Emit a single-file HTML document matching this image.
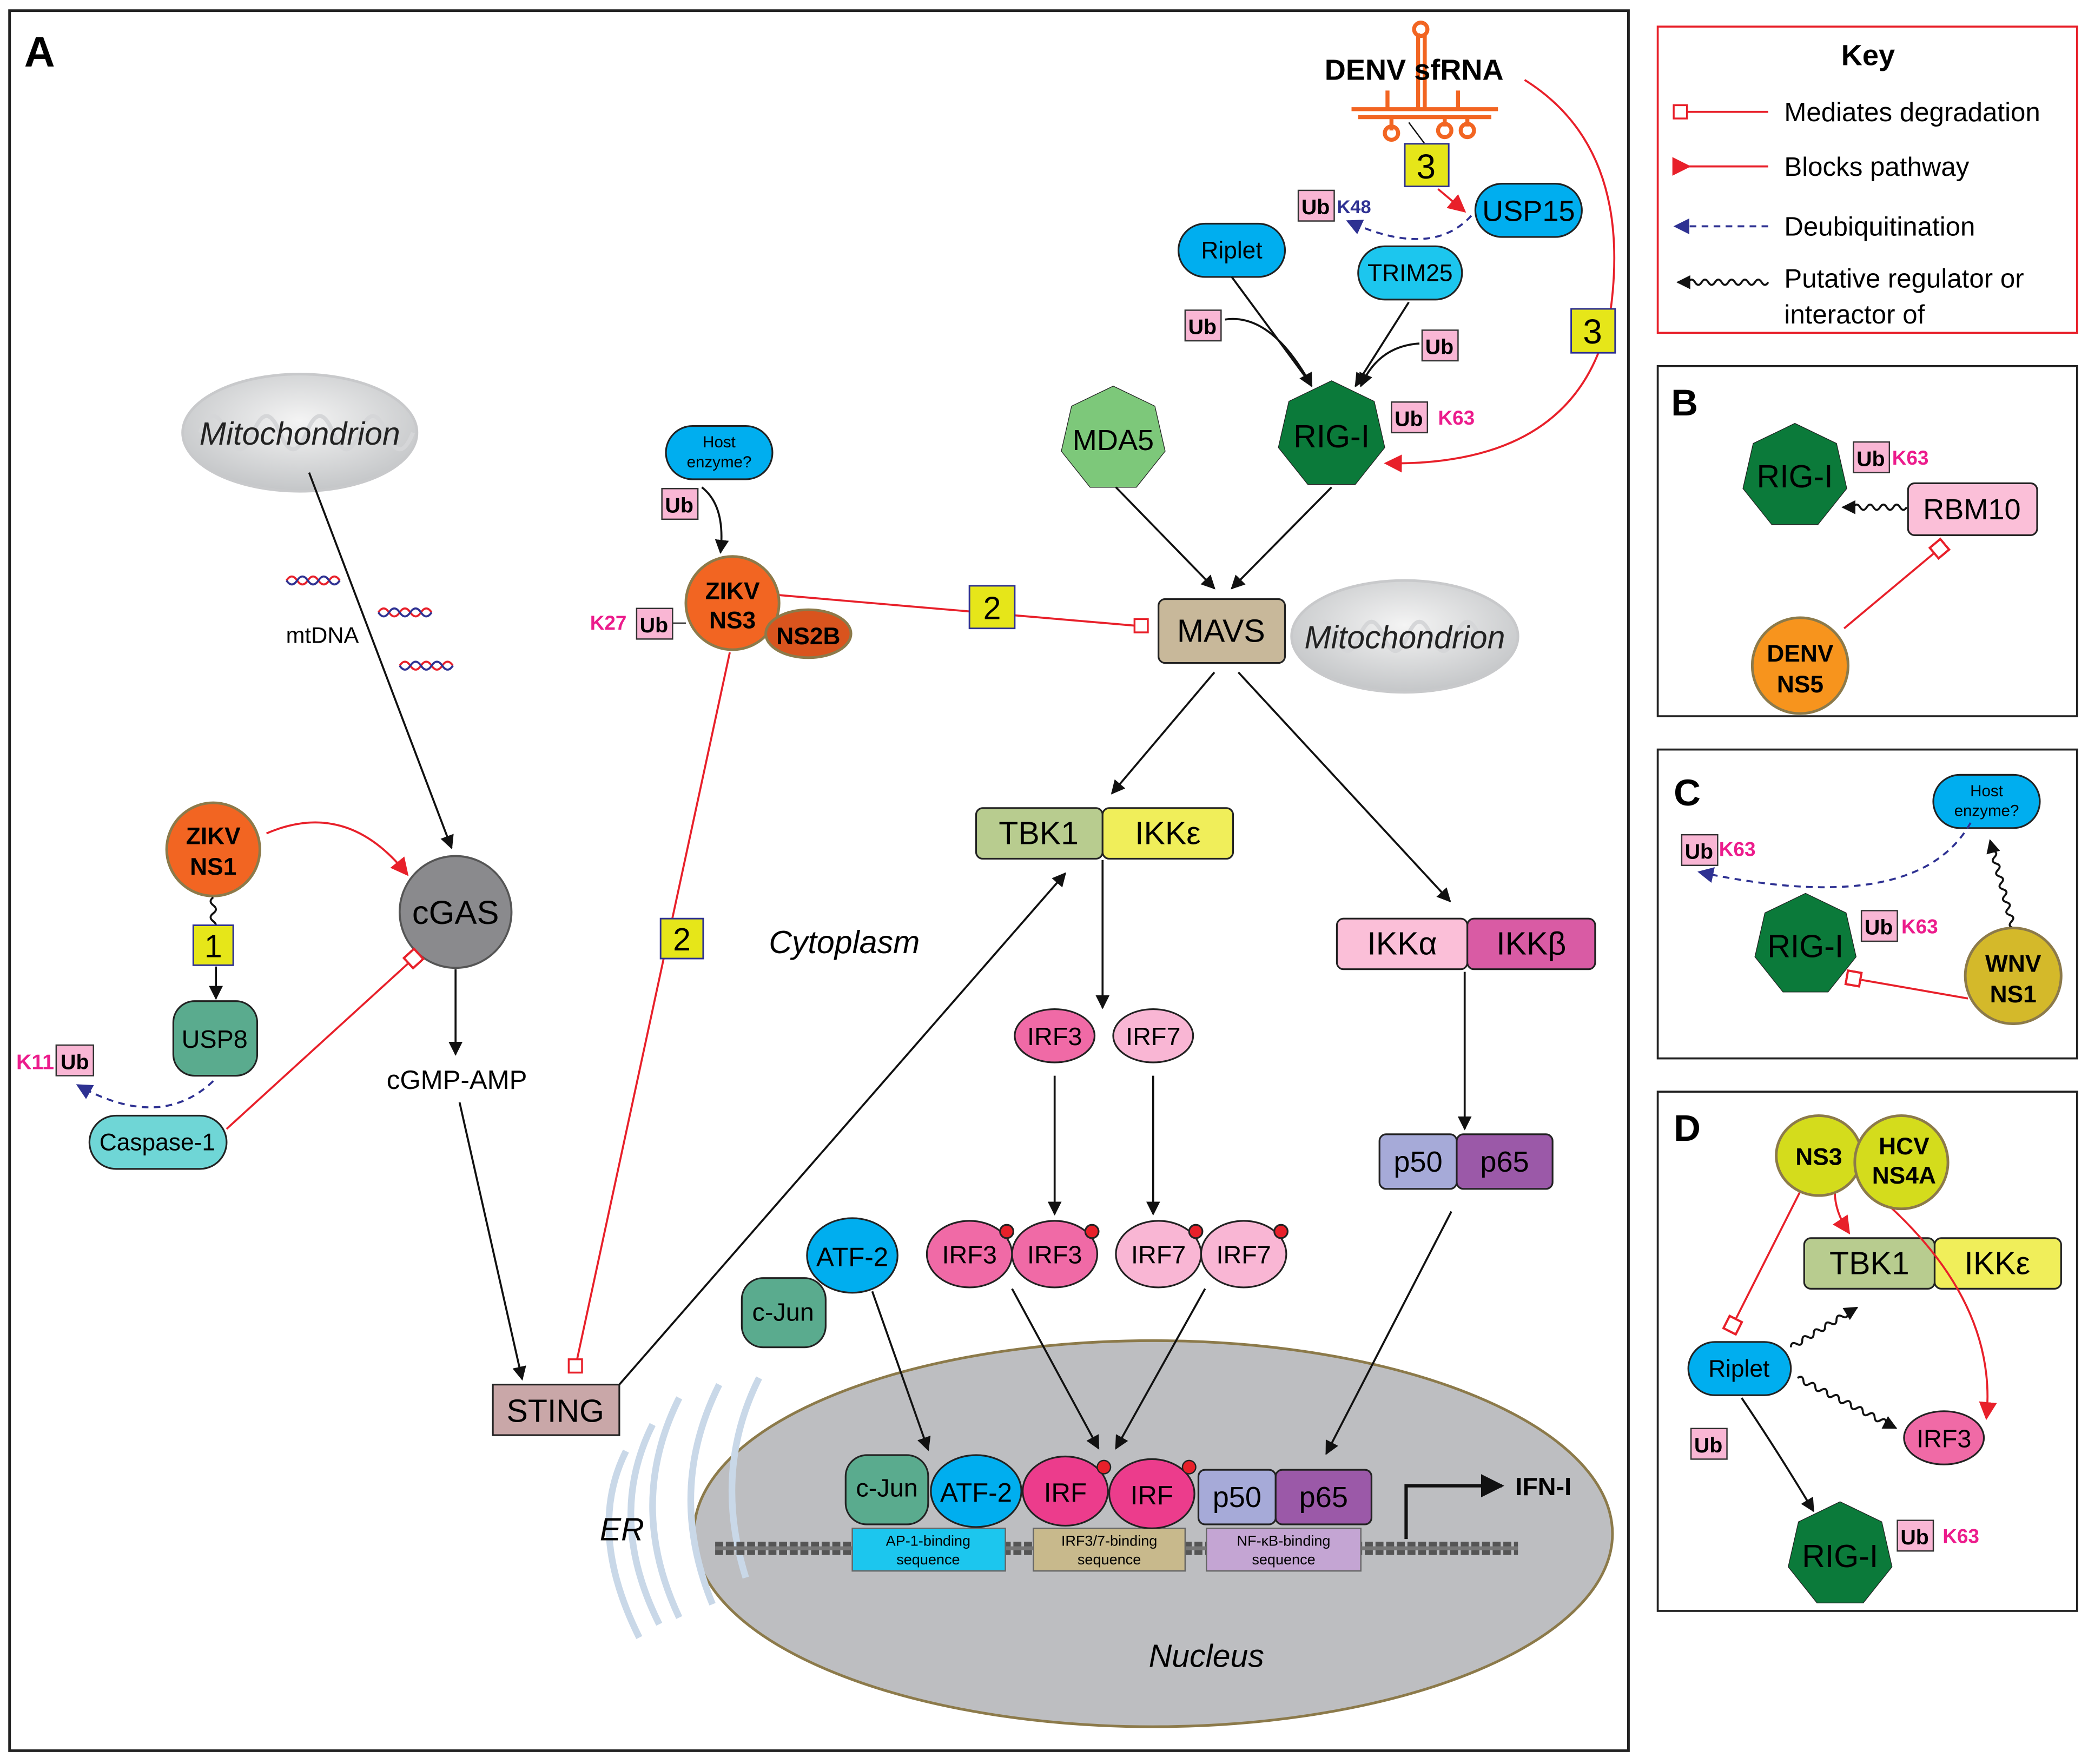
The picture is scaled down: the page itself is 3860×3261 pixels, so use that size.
<!DOCTYPE html>
<html><head><meta charset="utf-8"><style>
html,body{margin:0;padding:0;background:#fff}
svg{display:block}
text{font-family:"Liberation Sans",sans-serif}
</style></head><body>
<svg width="3860" height="3261" viewBox="0 0 1568 1325" xmlns="http://www.w3.org/2000/svg">
<defs>
<marker id="ah" viewBox="0 0 10 10" refX="9" refY="5" markerWidth="7" markerHeight="7" orient="auto"><path d="M0 0L10 5L0 10z" fill="#111"/></marker>
<marker id="rt" viewBox="0 0 10 10" refX="8" refY="5" markerWidth="9" markerHeight="9" orient="auto"><path d="M0 0L10 5L0 10z" fill="#e8202a"/></marker>
<marker id="sq" viewBox="0 0 10 10" refX="0" refY="5" markerWidth="8" markerHeight="8" orient="auto"><rect x="0.7" y="0.7" width="8.6" height="8.6" fill="#fff" stroke="#e8202a" stroke-width="1.4"/></marker>
<marker id="ba" viewBox="0 0 10 10" refX="9" refY="5" markerWidth="8" markerHeight="8" orient="auto"><path d="M0 0L10 5L0 10z" fill="#2e3192"/></marker>
<radialGradient id="mito" cx="50%" cy="40%" r="60%"><stop offset="0" stop-color="#f4f4f4"/><stop offset="1" stop-color="#c4c6c8"/></radialGradient>
</defs>
<rect width="1568" height="1325" fill="#fff"/>
<!-- frames -->
<rect x="7" y="8" width="1216" height="1307" fill="none" stroke="#222" stroke-width="2"/>
<rect x="1245" y="20" width="315" height="230" fill="none" stroke="#e8202a" stroke-width="1.5"/>
<rect x="1245" y="275" width="315" height="263" fill="none" stroke="#222" stroke-width="1.5"/>
<rect x="1245" y="563" width="315" height="232" fill="none" stroke="#222" stroke-width="1.5"/>
<rect x="1245" y="820" width="315" height="390" fill="none" stroke="#222" stroke-width="1.5"/>
<text x="18" y="50" font-size="32" font-weight="bold">A</text>

<!-- Nucleus background -->
<ellipse cx="866" cy="1152" rx="345" ry="145" fill="#bdbec1" stroke="#8c7a4a" stroke-width="2"/>

<!-- left mitochondrion -->
<ellipse cx="225" cy="325" rx="88" ry="44" fill="url(#mito)" stroke="#c8c9cb" stroke-width="2"/>
<path d="M150 325 q10 -25 20 0 q10 25 20 0 q10 -25 20 0 q10 25 20 0 q10 -25 20 0 q10 25 20 0 q10 -25 20 0 q10 25 20 0" fill="none" stroke="#d5d6d8" stroke-width="3"/>
<text x="225" y="334" font-size="24" font-style="italic" text-anchor="middle" fill="#222">Mitochondrion</text>
<g stroke-width="1.5" fill="none">
<path d="M215 436 q4 -6 8 0 t8 0 t8 0 t8 0 t8 0" stroke="#e8202a"/><path d="M215 436 q4 6 8 0 t8 0 t8 0 t8 0 t8 0" stroke="#2e3192"/>
<path d="M284 460 q4 -6 8 0 t8 0 t8 0 t8 0 t8 0" stroke="#e8202a"/><path d="M284 460 q4 6 8 0 t8 0 t8 0 t8 0 t8 0" stroke="#2e3192"/>
<path d="M300 500 q4 -6 8 0 t8 0 t8 0 t8 0 t8 0" stroke="#e8202a"/><path d="M300 500 q4 6 8 0 t8 0 t8 0 t8 0 t8 0" stroke="#2e3192"/>
</g>
<text x="242" y="483" font-size="17" text-anchor="middle">mtDNA</text>
<line x1="232" y1="355" x2="339" y2="637" stroke="#111" stroke-width="1.5" marker-end="url(#ah)"/>

<!-- cGAS -->
<circle cx="342" cy="685" r="42" fill="#8a8a8d" stroke="#555" stroke-width="1.5"/>
<text x="342" y="694" font-size="25" text-anchor="middle">cGAS</text>
<line x1="342" y1="728" x2="342" y2="792" stroke="#111" stroke-width="1.5" marker-end="url(#ah)"/>
<text x="343" y="818" font-size="20" text-anchor="middle">cGMP-AMP</text>
<line x1="345" y1="828" x2="392" y2="1036" stroke="#111" stroke-width="1.5" marker-end="url(#ah)"/>

<!-- ZIKV NS1 -->
<circle cx="160" cy="638" r="35" fill="#f26522" stroke="#8c7a4a" stroke-width="2"/>
<text x="160" y="634" font-size="18" font-weight="bold" text-anchor="middle">ZIKV</text>
<text x="160" y="657" font-size="18" font-weight="bold" text-anchor="middle">NS1</text>
<path d="M200 626 Q260 600 305 656" fill="none" stroke="#e8202a" stroke-width="1.5" marker-end="url(#rt)"/>
<path d="M160 674 q-4 3 0 6 t0 6 t0 6 t0 6" fill="none" stroke="#111" stroke-width="1.5"/>
<rect x="145" y="695" width="30" height="30" fill="#e6e619" stroke="#2e3192" stroke-width="1.2"/>
<text x="160" y="719" font-size="24" text-anchor="middle">1</text>
<line x1="162" y1="726" x2="162" y2="750" stroke="#111" stroke-width="1.5" marker-end="url(#ah)"/>
<rect x="130" y="752" width="63" height="56" rx="16" fill="#5aab8e" stroke="#222" stroke-width="1.3"/>
<text x="161" y="787" font-size="19" text-anchor="middle">USP8</text>
<rect x="67" y="838" width="103" height="40" rx="20" fill="#6fd6d6" stroke="#222" stroke-width="1.3"/>
<text x="118" y="864" font-size="18" text-anchor="middle">Caspase-1</text>
<path d="M160 812 Q120 850 58 815" fill="none" stroke="#2e3192" stroke-width="1.5" stroke-dasharray="5 4" marker-end="url(#ba)"/>
<text x="12" y="803" font-size="16" font-weight="bold" fill="#ec1c8c">K11</text>
<rect x="42" y="785" width="28" height="23" fill="#f9b6d4" stroke="#333"/>
<text x="56" y="803" font-size="16" font-weight="bold" text-anchor="middle">Ub</text>
<line x1="170" y1="848" x2="306" y2="724" stroke="#e8202a" stroke-width="1.5" marker-end="url(#sq)"/>

<!-- ER -->
<g fill="none" stroke="#c9d8e8" stroke-width="5">
<path d="M470 1090 q-30 60 10 140"/><path d="M490 1070 q-35 70 5 150"/><path d="M510 1050 q-40 80 0 165"/><path d="M540 1040 q-40 80 -5 165"/><path d="M570 1035 q-35 70 -10 150"/>
</g>
<text x="467" y="1157" font-size="24" font-style="italic" text-anchor="middle">ER</text>

<!-- STING -->
<rect x="370" y="1040" width="95" height="38" fill="#c9a7a8" stroke="#222" stroke-width="1.3"/>
<text x="417" y="1068" font-size="24" text-anchor="middle">STING</text>
<line x1="465" y1="1040" x2="800" y2="656" stroke="#111" stroke-width="1.5" marker-end="url(#ah)"/>

<!-- ZIKV NS3 -->
<rect x="500" y="320" width="80" height="40" rx="20" fill="#00aeef" stroke="#222" stroke-width="1.3"/>
<text x="540" y="336" font-size="12" text-anchor="middle">Host</text>
<text x="540" y="351" font-size="12" text-anchor="middle">enzyme?</text>
<rect x="497" y="367" width="27" height="23" fill="#f9b6d4" stroke="#333"/>
<text x="510" y="385" font-size="16" font-weight="bold" text-anchor="middle">Ub</text>
<path d="M527 366 Q545 380 541 415" fill="none" stroke="#111" stroke-width="1.5" marker-end="url(#ah)"/>
<line x1="548" y1="490" x2="432" y2="1027" stroke="#e8202a" stroke-width="1.5"/>
<rect x="427" y="1021" width="10" height="10" fill="#fff" stroke="#e8202a" stroke-width="1.4"/>
<rect x="496" y="690" width="32" height="30" fill="#e6e619" stroke="#2e3192" stroke-width="1.2"/>
<text x="512" y="714" font-size="24" text-anchor="middle">2</text>
<line x1="585" y1="447" x2="853" y2="470" stroke="#e8202a" stroke-width="1.5"/>
<rect x="852" y="465" width="10" height="10" fill="#fff" stroke="#e8202a" stroke-width="1.4"/>
<rect x="728" y="440" width="34" height="32" fill="#e6e619" stroke="#2e3192" stroke-width="1.2"/>
<text x="745" y="465" font-size="24" text-anchor="middle">2</text>
<circle cx="550" cy="453" r="35" fill="#f26522" stroke="#8c7a4a" stroke-width="2"/>
<ellipse cx="607" cy="476" rx="32" ry="18" fill="#d9541e" stroke="#8c7a4a" stroke-width="2"/>
<text x="607" y="484" font-size="18" font-weight="bold" text-anchor="middle">NS2B</text>
<text x="550" y="450" font-size="18" font-weight="bold" text-anchor="middle">ZIKV</text>
<text x="550" y="472" font-size="18" font-weight="bold" text-anchor="middle">NS3</text>
<line x1="505" y1="468" x2="515" y2="468" stroke="#333"/>
<text x="443" y="473" font-size="15" font-weight="bold" fill="#ec1c8c">K27</text>
<rect x="478" y="457" width="27" height="23" fill="#f9b6d4" stroke="#333"/>
<text x="491" y="475" font-size="16" font-weight="bold" text-anchor="middle">Ub</text>
<text x="634" y="716" font-size="24" font-style="italic" text-anchor="middle">Cytoplasm</text>

<!-- DENV sfRNA -->
<g stroke="#f26522" stroke-width="3" fill="none">
<path d="M1015 82 H1125"/><path d="M1020 88 H1120"/>
<path d="M1065 82 V25"/><path d="M1070 82 V25"/><circle cx="1067" cy="22" r="5"/>
<path d="M1045 88 V98"/><circle cx="1045" cy="100" r="5"/>
<path d="M1085 88 V95"/><circle cx="1085" cy="98" r="5"/>
<path d="M1102 88 V95"/><circle cx="1102" cy="98" r="5"/>
<path d="M1042 82 V68"/><path d="M1095 82 V68"/>
</g>
<text x="1062" y="60" font-size="22" font-weight="bold" text-anchor="middle">DENV sfRNA</text>
<line x1="1058" y1="92" x2="1070" y2="108" stroke="#111" stroke-width="1"/>
<rect x="1055" y="108" width="33" height="32" fill="#e6e619" stroke="#2e3192" stroke-width="1.2"/>
<text x="1071" y="134" font-size="26" text-anchor="middle">3</text>
<path d="M1080 142 L1099 158" fill="none" stroke="#e8202a" stroke-width="1.5" marker-end="url(#rt)"/>
<path d="M1145 60 Q1225 110 1210 230 Q1190 350 1042 348" fill="none" stroke="#e8202a" stroke-width="1.5" marker-end="url(#rt)"/>
<rect x="1180" y="232" width="33" height="33" fill="#e6e619" stroke="#2e3192" stroke-width="1.2"/>
<text x="1196" y="258" font-size="26" text-anchor="middle">3</text>

<!-- USP15, TRIM25, Riplet -->
<rect x="1108" y="138" width="80" height="40" rx="20" fill="#00aeef" stroke="#222" stroke-width="1.3"/>
<text x="1148" y="166" font-size="22" text-anchor="middle">USP15</text>
<path d="M1105 162 Q1075 195 1012 166" fill="none" stroke="#2e3192" stroke-width="1.5" stroke-dasharray="5 4" marker-end="url(#ba)"/>
<rect x="975" y="143" width="27" height="23" fill="#f9b6d4" stroke="#333"/>
<text x="988" y="161" font-size="16" font-weight="bold" text-anchor="middle">Ub</text>
<text x="1004" y="160" font-size="14" font-weight="bold" fill="#2e3192">K48</text>
<rect x="1020" y="185" width="78" height="40" rx="20" fill="#1cc6ee" stroke="#222" stroke-width="1.3"/>
<text x="1059" y="211" font-size="18" text-anchor="middle">TRIM25</text>
<rect x="885" y="168" width="80" height="40" rx="20" fill="#00aeef" stroke="#222" stroke-width="1.3"/>
<text x="925" y="194" font-size="18" text-anchor="middle">Riplet</text>
<rect x="890" y="233" width="27" height="23" fill="#f9b6d4" stroke="#333"/>
<text x="903" y="251" font-size="16" font-weight="bold" text-anchor="middle">Ub</text>
<path d="M920 240 Q955 235 985 290" fill="none" stroke="#111" stroke-width="1.5" marker-end="url(#ah)"/>
<line x1="925" y1="208" x2="984" y2="288" stroke="#111" stroke-width="1.5"/>
<rect x="1068" y="248" width="27" height="23" fill="#f9b6d4" stroke="#333"/>
<text x="1081" y="266" font-size="16" font-weight="bold" text-anchor="middle">Ub</text>
<path d="M1066 258 Q1035 260 1022 290" fill="none" stroke="#111" stroke-width="1.5" marker-end="url(#ah)"/>
<line x1="1058" y1="227" x2="1018" y2="290" stroke="#111" stroke-width="1.5" marker-end="url(#ah)"/>

<!-- MDA5, RIG-I -->
<polygon points="0,-1 .782,-.623 .975,.223 .434,.901 -.434,.901 -.975,.223 -.782,-.623" transform="translate(836,330) scale(40)" fill="#7dc87a" stroke="#222" stroke-width="1.3" vector-effect="non-scaling-stroke"/>
<text x="836" y="338" font-size="22" text-anchor="middle">MDA5</text>
<polygon points="0,-1 .782,-.623 .975,.223 .434,.901 -.434,.901 -.975,.223 -.782,-.623" transform="translate(1000,327) scale(41)" fill="#0b7a3a" stroke="#222" stroke-width="1.3" vector-effect="non-scaling-stroke"/>
<text x="1000" y="336" font-size="24" text-anchor="middle">RIG-I</text>
<rect x="1045" y="302" width="27" height="23" fill="#f9b6d4" stroke="#333"/>
<text x="1058" y="320" font-size="16" font-weight="bold" text-anchor="middle">Ub</text>
<text x="1080" y="319" font-size="15" font-weight="bold" fill="#ec1c8c">K63</text>
<line x1="838" y1="366" x2="912" y2="442" stroke="#111" stroke-width="1.5" marker-end="url(#ah)"/>
<line x1="1000" y1="366" x2="925" y2="442" stroke="#111" stroke-width="1.5" marker-end="url(#ah)"/>

<!-- MAVS -->
<ellipse cx="1055" cy="478" rx="85" ry="42" fill="url(#mito)" stroke="#c8c9cb" stroke-width="2"/>
<path d="M985 478 q9 -22 18 0 q9 22 18 0 q9 -22 18 0 q9 22 18 0 q9 -22 18 0 q9 22 18 0 q9 -22 18 0" fill="none" stroke="#d5d6d8" stroke-width="3"/>
<text x="1055" y="487" font-size="24" font-style="italic" text-anchor="middle" fill="#222">Mitochondrion</text>
<rect x="870" y="450" width="95" height="48" rx="5" fill="#c8b89a" stroke="#222" stroke-width="1.3"/>
<text x="917" y="482" font-size="24" text-anchor="middle">MAVS</text>
<line x1="912" y1="505" x2="835" y2="596" stroke="#111" stroke-width="1.5" marker-end="url(#ah)"/>
<line x1="930" y1="505" x2="1089" y2="677" stroke="#111" stroke-width="1.5" marker-end="url(#ah)"/>

<!-- TBK1/IKKe -->
<rect x="733" y="607" width="95" height="38" rx="5" fill="#b8cc8f" stroke="#222" stroke-width="1.3"/>
<text x="780" y="634" font-size="24" text-anchor="middle">TBK1</text>
<rect x="828" y="607" width="98" height="38" rx="5" fill="#f0ee5a" stroke="#222" stroke-width="1.3"/>
<text x="877" y="634" font-size="24" text-anchor="middle">IKKε</text>
<line x1="828" y1="646" x2="828" y2="757" stroke="#111" stroke-width="1.5" marker-end="url(#ah)"/>
<ellipse cx="792" cy="778" rx="30" ry="20" fill="#f06aa6" stroke="#222" stroke-width="1.3"/>
<text x="792" y="785" font-size="19" text-anchor="middle">IRF3</text>
<ellipse cx="866" cy="778" rx="30" ry="20" fill="#f9b6d4" stroke="#222" stroke-width="1.3"/>
<text x="866" y="785" font-size="19" text-anchor="middle">IRF7</text>
<line x1="792" y1="808" x2="792" y2="912" stroke="#111" stroke-width="1.5" marker-end="url(#ah)"/>
<line x1="866" y1="808" x2="866" y2="912" stroke="#111" stroke-width="1.5" marker-end="url(#ah)"/>
<g stroke="#222" stroke-width="1.3">
<ellipse cx="728" cy="942" rx="32" ry="25" fill="#f06aa6"/><ellipse cx="792" cy="942" rx="32" ry="25" fill="#f06aa6"/>
<ellipse cx="870" cy="942" rx="32" ry="25" fill="#f9b6d4"/><ellipse cx="934" cy="942" rx="32" ry="25" fill="#f9b6d4"/>
<circle cx="756" cy="925" r="5" fill="#e8202a"/><circle cx="820" cy="925" r="5" fill="#e8202a"/>
<circle cx="898" cy="925" r="5" fill="#e8202a"/><circle cx="962" cy="925" r="5" fill="#e8202a"/>
</g>
<g font-size="19" text-anchor="middle"><text x="728" y="949">IRF3</text><text x="792" y="949">IRF3</text><text x="870" y="949">IRF7</text><text x="934" y="949">IRF7</text></g>
<line x1="760" y1="968" x2="825" y2="1088" stroke="#111" stroke-width="1.5" marker-end="url(#ah)"/>
<line x1="905" y1="968" x2="838" y2="1088" stroke="#111" stroke-width="1.5" marker-end="url(#ah)"/>

<!-- IKK -->
<rect x="1004" y="690" width="98" height="38" rx="5" fill="#fbbfd8" stroke="#222" stroke-width="1.3"/>
<text x="1053" y="717" font-size="24" text-anchor="middle">IKKα</text>
<rect x="1102" y="690" width="96" height="38" rx="5" fill="#d95ba4" stroke="#222" stroke-width="1.3"/>
<text x="1150" y="717" font-size="24" text-anchor="middle">IKKβ</text>
<line x1="1100" y1="730" x2="1100" y2="848" stroke="#111" stroke-width="1.5" marker-end="url(#ah)"/>
<rect x="1036" y="852" width="58" height="41" rx="5" fill="#a6aad8" stroke="#222" stroke-width="1.3"/>
<text x="1065" y="880" font-size="22" text-anchor="middle">p50</text>
<rect x="1094" y="852" width="72" height="41" rx="5" fill="#9b59a8" stroke="#222" stroke-width="1.3"/>
<text x="1130" y="880" font-size="22" text-anchor="middle">p65</text>
<line x1="1090" y1="910" x2="996" y2="1092" stroke="#111" stroke-width="1.5" marker-end="url(#ah)"/>

<!-- ATF-2 c-Jun cyto -->
<rect x="557" y="960" width="63" height="52" rx="16" fill="#5aab8e" stroke="#222" stroke-width="1.3"/>
<text x="588" y="992" font-size="19" text-anchor="middle">c-Jun</text>
<ellipse cx="640" cy="943" rx="34" ry="28" fill="#00aeef" stroke="#222" stroke-width="1.3"/>
<text x="640" y="951" font-size="20" text-anchor="middle">ATF-2</text>
<line x1="655" y1="970" x2="697" y2="1089" stroke="#111" stroke-width="1.5" marker-end="url(#ah)"/>

<!-- Nucleus contents -->
<line x1="537" y1="1163" x2="1140" y2="1163" stroke="#555" stroke-width="10" stroke-dasharray="6 2"/>
<line x1="537" y1="1163" x2="1140" y2="1163" stroke="#777" stroke-width="3"/>
<rect x="640" y="1148" width="115" height="32" fill="#1cc6ee" stroke="#666"/>
<text x="697" y="1161" font-size="11" text-anchor="middle">AP-1-binding</text><text x="697" y="1175" font-size="11" text-anchor="middle">sequence</text>
<rect x="776" y="1148" width="114" height="32" fill="#c8b98c" stroke="#666"/>
<text x="833" y="1161" font-size="11" text-anchor="middle">IRF3/7-binding</text><text x="833" y="1175" font-size="11" text-anchor="middle">sequence</text>
<rect x="906" y="1148" width="116" height="32" fill="#c4a5d3" stroke="#666"/>
<text x="964" y="1161" font-size="11" text-anchor="middle">NF-κB-binding</text><text x="964" y="1175" font-size="11" text-anchor="middle">sequence</text>
<rect x="635" y="1093" width="62" height="52" rx="16" fill="#5aab8e" stroke="#222" stroke-width="1.3"/>
<text x="666" y="1124" font-size="19" text-anchor="middle">c-Jun</text>
<ellipse cx="733" cy="1120" rx="34" ry="27" fill="#00aeef" stroke="#222" stroke-width="1.3"/>
<text x="733" y="1128" font-size="20" text-anchor="middle">ATF-2</text>
<ellipse cx="800" cy="1120" rx="32" ry="26" fill="#ec3c8c" stroke="#222" stroke-width="1.3"/>
<ellipse cx="865" cy="1122" rx="32" ry="26" fill="#ec3c8c" stroke="#222" stroke-width="1.3"/>
<circle cx="829" cy="1102" r="5" fill="#e8202a" stroke="#222"/><circle cx="893" cy="1102" r="5" fill="#e8202a" stroke="#222"/>
<text x="800" y="1128" font-size="20" text-anchor="middle">IRF</text><text x="865" y="1130" font-size="20" text-anchor="middle">IRF</text>
<rect x="900" y="1104" width="58" height="41" rx="5" fill="#a6aad8" stroke="#222" stroke-width="1.3"/>
<text x="929" y="1132" font-size="22" text-anchor="middle">p50</text>
<rect x="958" y="1104" width="72" height="41" rx="5" fill="#9b59a8" stroke="#222" stroke-width="1.3"/>
<text x="994" y="1132" font-size="22" text-anchor="middle">p65</text>
<path d="M1056 1156 V1116 H1128" fill="none" stroke="#111" stroke-width="2.5" marker-end="url(#ah)"/>
<text x="1138" y="1123" font-size="19" font-weight="bold">IFN-I</text>
<text x="906" y="1252" font-size="24" font-style="italic" text-anchor="middle">Nucleus</text>

<!-- Key -->
<text x="1403" y="49" font-size="22" font-weight="bold" text-anchor="middle">Key</text>
<line x1="1267" y1="84" x2="1328" y2="84" stroke="#e8202a" stroke-width="1.5"/>
<rect x="1257" y="79" width="10" height="10" fill="#fff" stroke="#e8202a" stroke-width="1.4"/>
<text x="1340" y="91" font-size="20">Mediates degradation</text>
<line x1="1266" y1="125" x2="1328" y2="125" stroke="#e8202a" stroke-width="1.5"/>
<path d="M1256 118 L1270 125 L1256 132 z" fill="#e8202a"/>
<text x="1340" y="132" font-size="20">Blocks pathway</text>
<line x1="1328" y1="170" x2="1258" y2="170" stroke="#2e3192" stroke-width="1.5" stroke-dasharray="5 4" marker-end="url(#ba)"/>
<text x="1340" y="177" font-size="20">Deubiquitination</text>
<g transform="translate(1328,212) rotate(180)"><path d="M0 0 q2.5 -4 5 0 t5 0 t5 0 t5 0 t5 0 t5 0 t5 0 t5 0 t5 0 t5 0 t5 0 t5 0 t5 0 l3 0" fill="none" stroke="#111" stroke-width="1.5" marker-end="url(#ah)"/></g>
<text x="1340" y="216" font-size="20">Putative regulator or</text>
<text x="1340" y="243" font-size="20">interactor of</text>

<!-- B -->
<text x="1255" y="312" font-size="28" font-weight="bold">B</text>
<polygon points="0,-1 .782,-.623 .975,.223 .434,.901 -.434,.901 -.975,.223 -.782,-.623" transform="translate(1348,358) scale(40)" fill="#0b7a3a" stroke="#222" stroke-width="1.3" vector-effect="non-scaling-stroke"/>
<text x="1348" y="366" font-size="24" text-anchor="middle">RIG-I</text>
<rect x="1392" y="332" width="27" height="23" fill="#f9b6d4" stroke="#333"/>
<text x="1405" y="350" font-size="16" font-weight="bold" text-anchor="middle">Ub</text>
<text x="1421" y="349" font-size="15" font-weight="bold" fill="#ec1c8c">K63</text>
<rect x="1433" y="363" width="97" height="39" rx="5" fill="#fbbfd8" stroke="#222" stroke-width="1.3"/>
<text x="1481" y="390" font-size="22" text-anchor="middle">RBM10</text>
<g transform="translate(1432,381) rotate(180)"><path d="M0 0 q2.5 -4 5 0 t5 0 t5 0 t5 0 t5 0 t5 0 t5 0 t5 0 t5 0 l3 0" fill="none" stroke="#111" stroke-width="1.5" marker-end="url(#ah)"/></g>
<line x1="1385" y1="472" x2="1452" y2="416" stroke="#e8202a" stroke-width="1.5" marker-end="url(#sq)"/>
<circle cx="1352" cy="500" r="36" fill="#f7941d" stroke="#8c7a4a" stroke-width="2"/>
<text x="1352" y="497" font-size="18" font-weight="bold" text-anchor="middle">DENV</text>
<text x="1352" y="520" font-size="18" font-weight="bold" text-anchor="middle">NS5</text>

<!-- C -->
<text x="1257" y="605" font-size="28" font-weight="bold">C</text>
<rect x="1452" y="582" width="80" height="40" rx="20" fill="#00aeef" stroke="#222" stroke-width="1.3"/>
<text x="1492" y="598" font-size="12" text-anchor="middle">Host</text><text x="1492" y="613" font-size="12" text-anchor="middle">enzyme?</text>
<rect x="1263" y="627" width="27" height="23" fill="#f9b6d4" stroke="#333"/>
<text x="1276" y="645" font-size="16" font-weight="bold" text-anchor="middle">Ub</text>
<text x="1291" y="643" font-size="15" font-weight="bold" fill="#ec1c8c">K63</text>
<path d="M1480 618 Q1440 690 1276 655" fill="none" stroke="#2e3192" stroke-width="1.5" stroke-dasharray="5 4" marker-end="url(#ba)"/>
<g transform="translate(1512,697) rotate(-104.8)"><path d="M0 0 q2.5 -4 5 0 t5 0 t5 0 t5 0 t5 0 t5 0 t5 0 t5 0 t5 0 t5 0 t5 0 t5 0 t5 0 l3 0" fill="none" stroke="#111" stroke-width="1.5" marker-end="url(#ah)"/></g>
<polygon points="0,-1 .782,-.623 .975,.223 .434,.901 -.434,.901 -.975,.223 -.782,-.623" transform="translate(1356,710) scale(39)" fill="#0b7a3a" stroke="#222" stroke-width="1.3" vector-effect="non-scaling-stroke"/>
<text x="1356" y="719" font-size="24" text-anchor="middle">RIG-I</text>
<rect x="1398" y="684" width="27" height="23" fill="#f9b6d4" stroke="#333"/>
<text x="1411" y="702" font-size="16" font-weight="bold" text-anchor="middle">Ub</text>
<text x="1428" y="701" font-size="15" font-weight="bold" fill="#ec1c8c">K63</text>
<line x1="1478" y1="750" x2="1398" y2="736" stroke="#e8202a" stroke-width="1.5" marker-end="url(#sq)"/>
<circle cx="1512" cy="733" r="36" fill="#d4b92a" stroke="#8c7a4a" stroke-width="2"/>
<text x="1512" y="730" font-size="18" font-weight="bold" text-anchor="middle">WNV</text>
<text x="1512" y="753" font-size="18" font-weight="bold" text-anchor="middle">NS1</text>

<!-- D -->
<text x="1257" y="857" font-size="28" font-weight="bold">D</text>
<rect x="1355" y="930" width="98" height="38" rx="5" fill="#b8cc8f" stroke="#222" stroke-width="1.3"/>
<text x="1404" y="957" font-size="24" text-anchor="middle">TBK1</text>
<rect x="1453" y="930" width="95" height="38" rx="5" fill="#f0ee5a" stroke="#222" stroke-width="1.3"/>
<text x="1500" y="957" font-size="24" text-anchor="middle">IKKε</text>
<line x1="1352" y1="895" x2="1304" y2="990" stroke="#e8202a" stroke-width="1.5" marker-end="url(#sq)"/>
<path d="M1378 895 Q1378 910 1388 925" fill="none" stroke="#e8202a" stroke-width="1.5" marker-end="url(#rt)"/>
<path d="M1418 905 Q1500 980 1492 1064" fill="none" stroke="#e8202a" stroke-width="1.5" marker-end="url(#rt)"/>
<ellipse cx="1366" cy="868" rx="32" ry="30" fill="#d4dc1c" stroke="#8c7a4a" stroke-width="2"/>
<text x="1366" y="875" font-size="18" font-weight="bold" text-anchor="middle">NS3</text>
<circle cx="1428" cy="873" r="35" fill="#d4dc1c" stroke="#8c7a4a" stroke-width="2"/>
<text x="1430" y="867" font-size="18" font-weight="bold" text-anchor="middle">HCV</text>
<text x="1430" y="889" font-size="18" font-weight="bold" text-anchor="middle">NS4A</text>
<rect x="1268" y="1008" width="77" height="40" rx="20" fill="#00aeef" stroke="#222" stroke-width="1.3"/>
<text x="1306" y="1034" font-size="18" text-anchor="middle">Riplet</text>
<g transform="translate(1345,1012) rotate(-31)"><path d="M0 0 q2.5 -4 5 0 t5 0 t5 0 t5 0 t5 0 t5 0 t5 0 t5 0 t5 0 t5 0 t5 0 l3 0" fill="none" stroke="#111" stroke-width="1.5" marker-end="url(#ah)"/></g>
<g transform="translate(1350,1035) rotate(27)"><path d="M0 0 q2.5 -4 5 0 t5 0 t5 0 t5 0 t5 0 t5 0 t5 0 t5 0 t5 0 t5 0 t5 0 t5 0 t5 0 t5 0 t5 0 t5 0 l3 0" fill="none" stroke="#111" stroke-width="1.5" marker-end="url(#ah)"/></g>
<ellipse cx="1460" cy="1080" rx="30" ry="20" fill="#f06aa6" stroke="#222" stroke-width="1.3"/>
<text x="1460" y="1087" font-size="19" text-anchor="middle">IRF3</text>
<rect x="1270" y="1073" width="27" height="23" fill="#f9b6d4" stroke="#333"/>
<text x="1283" y="1091" font-size="16" font-weight="bold" text-anchor="middle">Ub</text>
<path d="M1308 1050 Q1335 1090 1362 1135" fill="none" stroke="#111" stroke-width="1.5" marker-end="url(#ah)"/>
<polygon points="0,-1 .782,-.623 .975,.223 .434,.901 -.434,.901 -.975,.223 -.782,-.623" transform="translate(1382,1168) scale(40)" fill="#0b7a3a" stroke="#222" stroke-width="1.3" vector-effect="non-scaling-stroke"/>
<text x="1382" y="1177" font-size="24" text-anchor="middle">RIG-I</text>
<rect x="1425" y="1142" width="27" height="23" fill="#f9b6d4" stroke="#333"/>
<text x="1438" y="1160" font-size="16" font-weight="bold" text-anchor="middle">Ub</text>
<text x="1459" y="1159" font-size="15" font-weight="bold" fill="#ec1c8c">K63</text>
</svg>
</body></html>
